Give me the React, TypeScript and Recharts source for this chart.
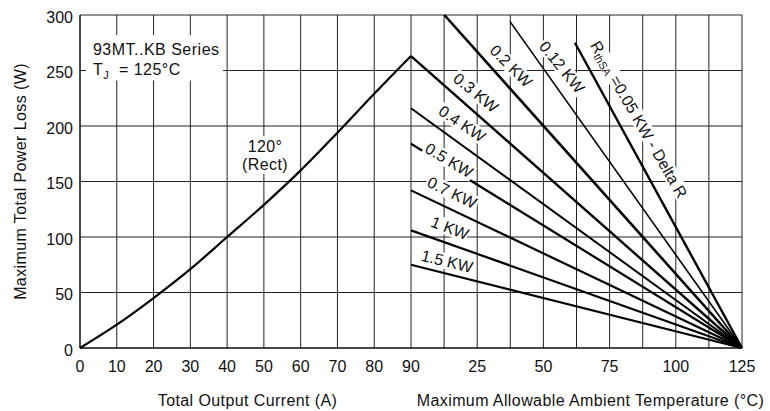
import React from "react";
import { LineChart, Line, XAxis, YAxis, CartesianGrid, ReferenceArea, ReferenceDot } from "recharts";

// left half: power loss vs output current (120° rect)
const CURRENT = [0, 10, 20, 30, 40, 50, 60, 70, 80, 90];
const POWER_LOSS = [0, 21, 45, 71, 100, 129, 160, 194, 229, 263];

// right half: RthSA derating lines, each runs to (TJ_MAX, 0)
const RTH_NAMES = ["0.05", "0.12", "0.2", "0.3", "0.4", "0.5", "0.7", "1", "1.5"];
const RTH_START_TEMP = [61.9, 37.4, 12.6, 0, 0, 0, 0, 0, 0];
const RTH_START_POWER = [275, 294, 300, 263, 216, 184, 142, 106, 75];
const TJ_MAX = 125;

const CURRENT_TICKS = [0, 10, 20, 30, 40, 50, 60, 70, 80, 90];
const TEMP_TICKS = [25, 50, 75, 100, 125];
const TEMP_GRID = [12.5, 25, 37.5, 50, 62.5, 75, 87.5, 100, 112.5, 125];
const POWER_TICKS = [0, 50, 100, 150, 200, 250, 300];

const I_MAX = 90;
const tempToU = (t: number) => I_MAX + (t * I_MAX) / TJ_MAX;

const FONT = "'Liberation Sans', Arial, Helvetica, sans-serif";
const INK = "#111";

// label placement (temperature / watts) and text angle
const RTH_LABEL_POS = [
  { t: 86.1, p: 206, tilt: 60 },
  { t: 57.0, p: 253, tilt: 51 },
  { t: 37.8, p: 254, tilt: 45 },
  { t: 24.5, p: 230, tilt: 39 },
  { t: 19.3, p: 202, tilt: 34 },
  { t: 14.4, p: 169, tilt: 31 },
  { t: 15.5, p: 140, tilt: 26 },
  { t: 14.7, p: 108, tilt: 21 },
  { t: 13.6, p: 78, tilt: 14 },
];
const RTH_WIDTHS = [2.4, 1.6, 2.6, 2.4, 2, 2.2, 2.2, 2.2, 2.2];

const curveData = CURRENT.map((a, i) => ({ u: a, p: POWER_LOSS[i] }));
const rthData = RTH_NAMES.map((_, i) => [
  { u: tempToU(RTH_START_TEMP[i]), p: RTH_START_POWER[i] },
  { u: tempToU(TJ_MAX), p: 0 },
]);

const tickLabels = new Map<string, string>();
const gridTicks: number[] = [];
CURRENT_TICKS.forEach((a) => {
  tickLabels.set(a.toFixed(3), String(a));
  gridTicks.push(a);
});
TEMP_GRID.forEach((t) => {
  const u = tempToU(t);
  gridTicks.push(u);
  if (TEMP_TICKS.includes(t)) tickLabels.set(u.toFixed(3), String(t));
});

function SlopeLabel(props: any) {
  const { viewBox, txt, tilt } = props;
  const x = viewBox?.x ?? 0;
  const y = viewBox?.y ?? 0;
  const isFirst = txt === "0.05";
  const w = isFirst ? 186 : (txt.length + 3) * 9 + 2;
  return (
    <g transform={`translate(${x},${y}) rotate(${tilt})`}>
      <rect x={-w / 2} y={-8} width={w} height={16} fill="#fff" />
      <text
        textAnchor="middle"
        dominantBaseline="central"
        fontSize={16}
        fill={INK}
        style={{ fontFamily: FONT }}
      >
        {isFirst ? (
          <>
            R<tspan fontSize={11} dy={4}>thSA</tspan>
            <tspan dy={-4}>{`  =${txt} KW - Delta R`}</tspan>
          </>
        ) : (
          `${txt} KW`
        )}
      </text>
    </g>
  );
}

function XTitles(props: any) {
  const vb = props.viewBox ?? { x: 80, y: 348, width: 662, height: 30 };
  const half = vb.width / 2;
  const y = vb.y + 58;
  const st = { fontFamily: FONT, letterSpacing: "0.4px" };
  return (
    <g>
      <text x={vb.x + half / 2 + 2} y={y} textAnchor="middle" fontSize={16} fill={INK} style={st}>
        Total Output Current (A)
      </text>
      <text x={vb.x + half * 1.5 + 14} y={y} textAnchor="middle" fontSize={16} fill={INK} style={st}>
        Maximum Allowable Ambient Temperature (°C)
      </text>
    </g>
  );
}

function YTitle(props: any) {
  const vb = props.viewBox ?? { x: 0, y: 15, width: 80, height: 333 };
  const x = vb.x + 26;
  const y = vb.y + vb.height / 2;
  return (
    <text
      x={x}
      y={y}
      transform={`rotate(-90, ${x}, ${y})`}
      textAnchor="middle"
      fontSize={16}
      fill={INK}
      style={{ fontFamily: FONT, letterSpacing: "0.4px" }}
    >
      Maximum Total Power Loss (W)
    </text>
  );
}

function SeriesNote(props: any) {
  const vb = props.viewBox ?? { x: 86, y: 35 };
  const st = { fontFamily: FONT, letterSpacing: "0.5px" };
  return (
    <g>
      <text x={vb.x + 7} y={vb.y + 20.5} fontSize={16} fill={INK} style={st}>
        93MT..KB Series
      </text>
      <text x={vb.x + 7} y={vb.y + 40} fontSize={16} fill={INK} style={st}>
        T<tspan fontSize={11} dy={4}>J</tspan>
      </text>
      <text x={vb.x + 33} y={vb.y + 40} fontSize={16} fill={INK} style={st}>
        = 125°C
      </text>
    </g>
  );
}

function RectNote(props: any) {
  const vb = props.viewBox ?? { x: 239, y: 136, width: 52 };
  const cx = vb.x + vb.width / 2;
  const st = { fontFamily: FONT, letterSpacing: "0.4px" };
  return (
    <g>
      <text x={cx} y={vb.y + 16} textAnchor="middle" fontSize={16} fill={INK} style={st}>
        120°
      </text>
      <text x={cx} y={vb.y + 34} textAnchor="middle" fontSize={16} fill={INK} style={st}>
        (Rect)
      </text>
    </g>
  );
}

export default function App() {
  return (
    <div style={{ position: "absolute", left: 0, top: 0, background: "#fff" }}>
      <LineChart
        width={770}
        height={411}
        margin={{ top: 15, right: 28, bottom: 33, left: 0 }}
        style={{ fontFamily: FONT }}
      >
        <CartesianGrid stroke="#222" strokeWidth={1} />
        <XAxis
          type="number"
          dataKey="u"
          domain={[0, tempToU(TJ_MAX)]}
          ticks={gridTicks}
          interval={0}
          height={30}
          tickLine={false}
          tickMargin={7}
          axisLine={{ stroke: "#000" }}
          tick={{ fontSize: 16, fill: INK }}
          tickFormatter={(v: number) => tickLabels.get(v.toFixed(3)) ?? ""}
          label={<XTitles />}
        />
        <YAxis
          type="number"
          domain={[0, 300]}
          ticks={POWER_TICKS}
          interval={0}
          width={80}
          tickLine={false}
          tickMargin={1}
          axisLine={{ stroke: "#000" }}
          tick={{ fontSize: 16, fill: INK, dy: 2 }}
          label={<YTitle />}
        />
        <ReferenceArea
          x1={1.6}
          x2={38.9}
          y1={241}
          y2={282}
          fill="#fff"
          fillOpacity={1}
          stroke="none"
          label={<SeriesNote />}
        />
        <ReferenceArea
          x1={43.2}
          x2={57.4}
          y1={157}
          y2={191}
          fill="#fff"
          fillOpacity={1}
          stroke="none"
          label={<RectNote />}
        />
        <Line
          data={curveData}
          dataKey="p"
          type="monotone"
          stroke="#000"
          strokeWidth={2.2}
          dot={false}
          activeDot={false}
          isAnimationActive={false}
        />
        {rthData.map((d, i) => (
          <Line
            key={RTH_NAMES[i]}
            data={d}
            dataKey="p"
            type="linear"
            stroke="#000"
            strokeWidth={RTH_WIDTHS[i]}
            dot={false}
            activeDot={false}
            isAnimationActive={false}
          />
        ))}
        {RTH_NAMES.map((name, i) => (
          <ReferenceDot
            key={"lbl" + name}
            x={tempToU(RTH_LABEL_POS[i].t)}
            y={RTH_LABEL_POS[i].p}
            r={0}
            fill="none"
            stroke="none"
            label={<SlopeLabel txt={name} tilt={RTH_LABEL_POS[i].tilt} />}
          />
        ))}
      </LineChart>
    </div>
  );
}
